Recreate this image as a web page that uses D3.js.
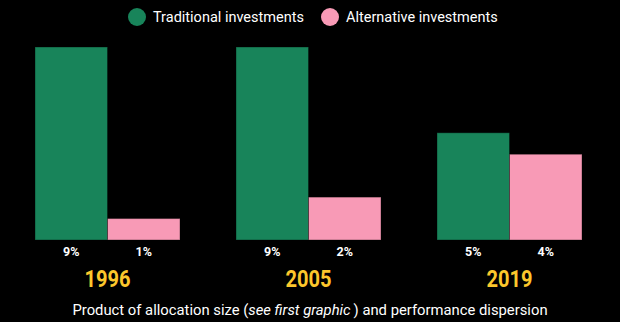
<!DOCTYPE html>
<html><head><meta charset="utf-8">
<script src="https://cdn.jsdelivr.net/npm/d3@7"></script>
<style>
html,body{margin:0;padding:0;background:#000;}
svg{display:block;}
</style></head>
<body>
<script>
const years = ["1996", "2005", "2019"];
const seriesNames = ["Traditional investments", "Alternative investments"];
const traditional = [9, 9, 5];
const alternative = [1, 2, 4];
const valueLabels = ["%"];

const W = 620, H = 322;
const colors = ["#18845a", "#f89ab6"];
const svg = d3.select("body").append("svg").attr("width", W).attr("height", H);
svg.append("rect").attr("width", W).attr("height", H).attr("fill", "#000");

const x0 = d3.scaleBand().domain(years).range([35, 582]).paddingInner(0.2786).paddingOuter(0);
const x1 = d3.scaleBand().domain(seriesNames).range([0, x0.bandwidth()]);
const y = d3.scaleLinear().domain([0, 9]).range([240, 47]);

const data = years.map((yr, i) => ({year: yr, vals: [traditional[i], alternative[i]]}));

const g = svg.selectAll("g.grp").data(data).join("g")
  .attr("transform", d => `translate(${x0(d.year)},0)`);

g.selectAll("rect").data(d => d.vals.map((v, j) => ({v, s: seriesNames[j], j}))).join("rect")
  .attr("x", d => x1(d.s))
  .attr("y", d => y(d.v))
  .attr("width", x1.bandwidth())
  .attr("height", d => y(0) - y(d.v))
  .attr("fill", d => colors[d.j])
  .attr("stroke", "rgba(0,0,0,0.35)")
  .attr("stroke-width", 1);

g.selectAll("text.val").data(d => d.vals.map((v, j) => ({v, s: seriesNames[j]}))).join("text")
  .attr("class", "val")
  .attr("x", d => x1(d.s) + x1.bandwidth() / 2)
  .attr("y", 256)
  .attr("text-anchor", "middle")
  .attr("fill", "#fff")
  .attr("font-family", "Roboto, sans-serif")
  .attr("font-weight", 700)
  .attr("font-size", 12.5)
  .text(d => d.v + valueLabels[0]);

g.append("text")
  .attr("x", x0.bandwidth() / 2)
  .attr("y", 287)
  .attr("text-anchor", "middle")
  .attr("fill", "#fcc72c")
  .attr("font-family", "Roboto, sans-serif")
  .attr("font-weight", 700)
  .attr("font-size", 23)
  .attr("textLength", 46)
  .attr("lengthAdjust", "spacingAndGlyphs")
  .text(d => d.year);

// legend
const legendX = [137, 330];
const leg = svg.selectAll("g.leg").data(seriesNames).join("g")
  .attr("transform", (d, i) => `translate(${legendX[i]},17)`);
leg.append("circle").attr("r", 9).attr("fill", (d, i) => colors[i]);
leg.append("text").attr("x", 16).attr("y", 5)
  .attr("fill", "#fff")
  .attr("font-family", "Roboto, sans-serif")
  .attr("font-size", 14.5)
  .text(d => d);

// caption
const cap = svg.append("text")
  .attr("x", 310).attr("y", 315)
  .attr("text-anchor", "middle")
  .attr("fill", "#fff")
  .attr("font-family", "Roboto, sans-serif")
  .attr("font-size", 14.8);
cap.append("tspan").text("Product of allocation size (");
cap.append("tspan").attr("font-style", "italic").text("see first graphic");
cap.append("tspan").text("\u2009) and performance dispersion");
</script>
</body></html>
